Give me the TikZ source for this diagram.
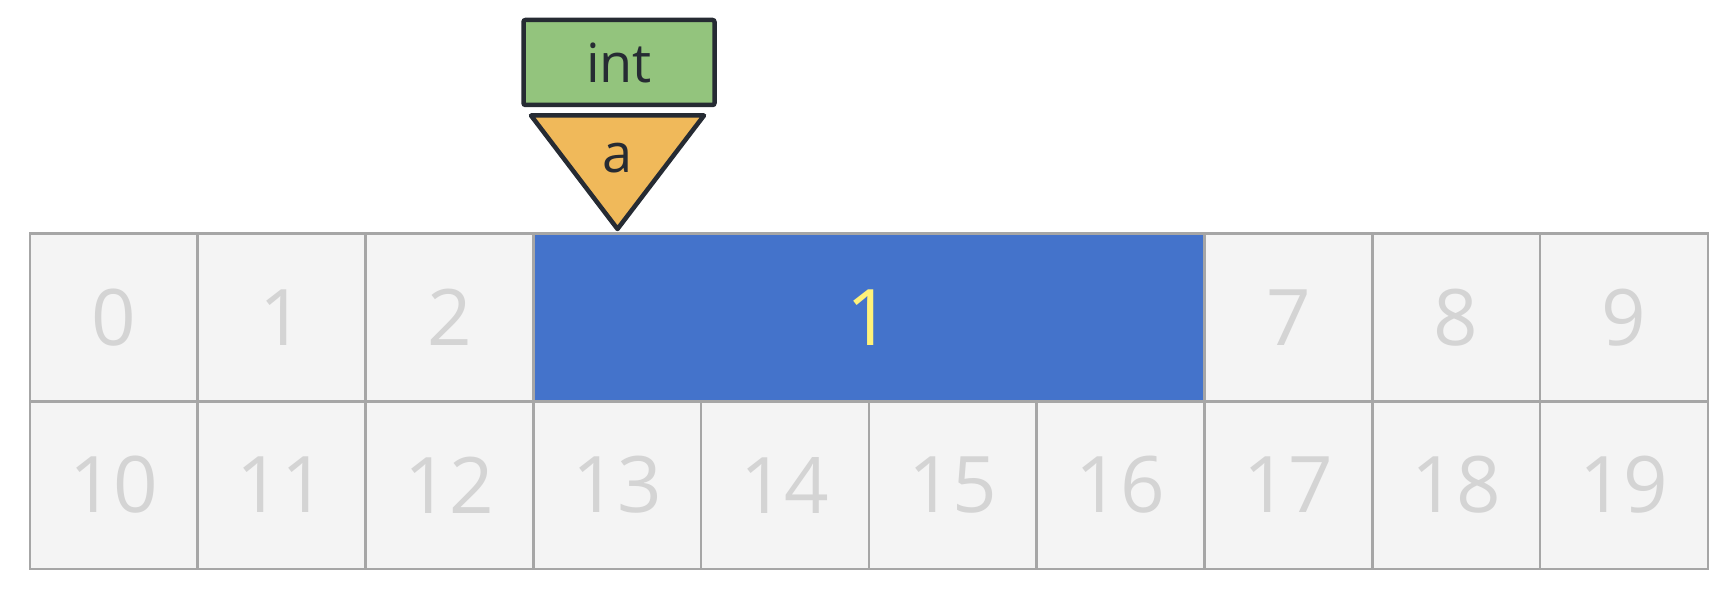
\documentclass[tikz,border=0pt]{standalone}
\usepackage{fontspec}
\setmainfont{Open Sans}
\definecolor{cellfill}{HTML}{F4F4F4}
\definecolor{celledge}{HTML}{A6A6A6}
\definecolor{celltext}{HTML}{D4D4D4}
\definecolor{blockblue}{HTML}{4473CB}
\definecolor{blocktext}{HTML}{FFF27A}
\definecolor{typegreen}{HTML}{93C47D}
\definecolor{ptrorange}{HTML}{F0B95A}
\definecolor{darkedge}{HTML}{262B33}
\tikzset{
  cell/.style={draw=celledge, fill=cellfill, line width=2.6bp, minimum width=167.8bp, minimum height=167.5bp, inner sep=0pt, text=celltext, font=\fontsize{78bp}{80bp}\selectfont, anchor=north west},
  block/.style={draw=celledge, fill=blockblue, line width=2.6bp, minimum width=671.2bp, minimum height=167.5bp, inner sep=0pt, text=blocktext, font=\fontsize{78bp}{80bp}\selectfont, anchor=north west},
  typebox/.style={draw=darkedge, fill=typegreen, line width=4.5bp, rounded corners=2bp, minimum width=191bp, minimum height=85bp, inner sep=0pt, text=darkedge, font=\fontsize{54bp}{56bp}\selectfont},
  ptrtri/.style={draw=darkedge, fill=ptrorange, line width=4.5bp, line join=round},
  ptrlabel/.style={text=darkedge, font=\fontsize{54bp}{56bp}\selectfont, inner sep=0pt}
}
\begin{document}
\begin{tikzpicture}[x=1bp, y=-1bp]
\useasboundingbox (0,0) rectangle (1734,597);
% top row
\node[cell] (c0) at (28.5,232.5) {0};
\node[cell] (c1) at (196.3,232.5) {1};
\node[cell] (c2) at (364.1,232.5) {2};
\node[block] (blk) at (531.9,232.5) {1};
\node[cell] (c7) at (1203.1,232.5) {7};
\node[cell] (c8) at (1370.9,232.5) {8};
\node[cell] (c9) at (1538.7,232.5) {9};
% bottom row
\foreach \i in {0,...,9} {
  \node[cell] (d\i) at ({28.5+167.8*\i},400) {1\i};
}
% type box
\node[typebox] (type) at (619,62.5) {int};
% pointer triangle
\coordinate (tl) at (531,115.5);
\coordinate (tr) at (704,115.5);
\coordinate (tip) at (617.5,229);
\draw[ptrtri] (tl) -- (tr) -- (tip) -- cycle;
\node[ptrlabel] (ptr) at (617.5,158) {a};
\end{tikzpicture}
\end{document}
